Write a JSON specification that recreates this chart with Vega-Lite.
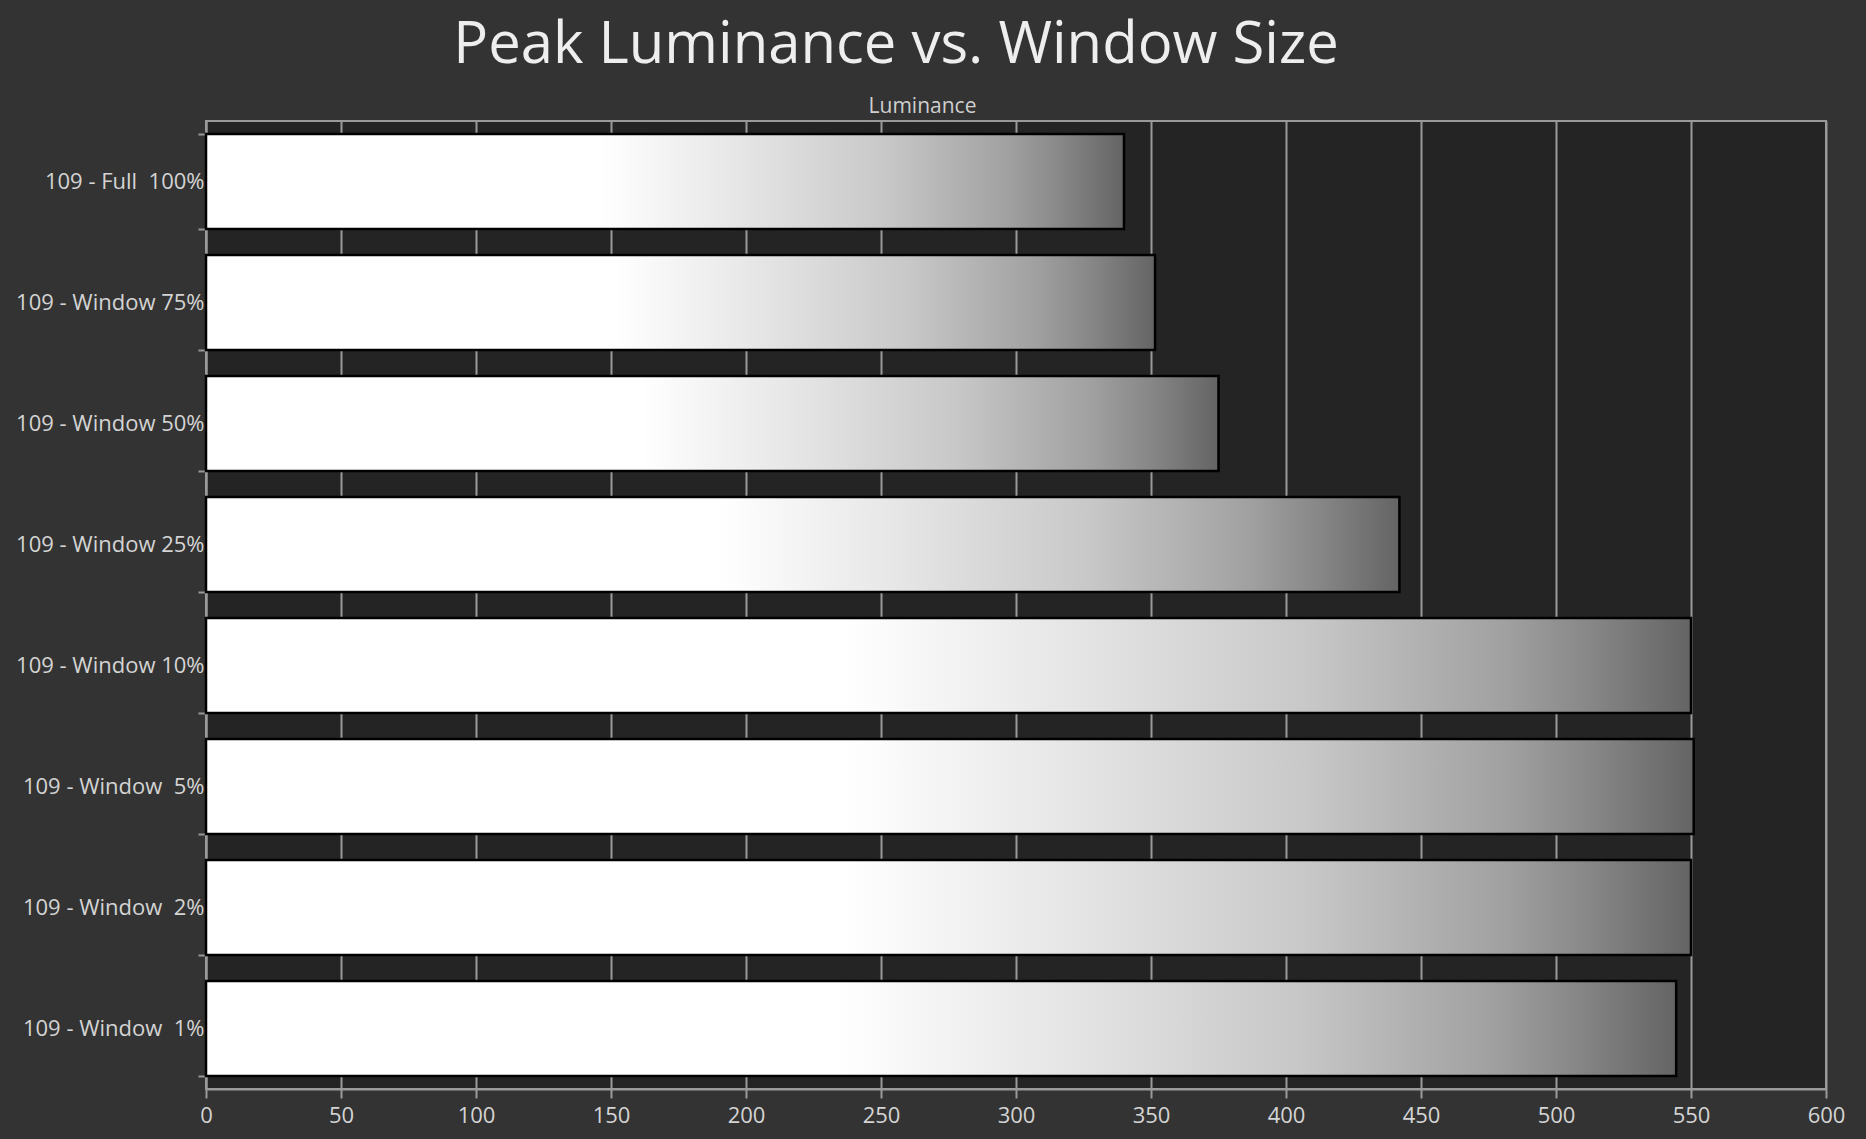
{
  "$schema": "https://vega.github.io/schema/vega-lite/v6.json",
  "autosize": {"type": "none"},
  "padding": {"left": 206, "top": 121, "right": 40, "bottom": 50},
  "width": 1620,
  "height": 968,
  "background": "#333333",
  "title": {
    "text": "Peak Luminance vs. Window Size",
    "font": "Open Sans",
    "fontSize": 58,
    "fontWeight": "normal",
    "color": "#eeeeee",
    "anchor": "middle",
    "dx": -120,
    "offset": 20
  },
  "config": {
    "view": {"fill": "#242424", "stroke": "#9a9a9a", "strokeWidth": 2},
    "axis": {"labelFont": "Open Sans", "titleFont": "Open Sans"}
  },
  "data": {
    "values": [
      {"label": "109 - Full  100%", "Luminance": 340},
      {"label": "109 - Window 75%", "Luminance": 351.5},
      {"label": "109 - Window 50%", "Luminance": 375},
      {"label": "109 - Window 25%", "Luminance": 442},
      {"label": "109 - Window 10%", "Luminance": 550},
      {"label": "109 - Window  5%", "Luminance": 551},
      {"label": "109 - Window  2%", "Luminance": 550},
      {"label": "109 - Window  1%", "Luminance": 544.5}
    ]
  },
  "resolve": {"axis": {"x": "independent"}},
  "layer": [
    {
      "mark": {
        "type": "bar",
        "stroke": "#000000",
        "strokeWidth": 2.5,
        "color": {
          "gradient": "linear",
          "x1": 0, "y1": 0, "x2": 1, "y2": 0,
          "stops": [
            {"offset": 0, "color": "#ffffff"},
            {"offset": 0.43, "color": "#ffffff"},
            {"offset": 0.58, "color": "#e6e6e6"},
            {"offset": 0.74, "color": "#c8c8c8"},
            {"offset": 0.876, "color": "#a0a0a0"},
            {"offset": 0.93, "color": "#888888"},
            {"offset": 1, "color": "#646464"}
          ]
        }
      },
      "encoding": {
        "y": {
          "field": "label",
          "type": "nominal",
          "sort": null,
          "scale": {"paddingInner": 0.215, "paddingOuter": 0.1075},
          "axis": {
            "title": null,
            "labelFontSize": 22,
            "labelColor": "#d4d4d4",
            "labelPadding": -6,
            "labelLimit": 400,
            "labelExpr": "replace(datum.label, '  ', '\u00a0 ')",
            "tickBand": "extent",
            "tickSize": 8,
            "tickColor": "#9a9a9a",
            "tickWidth": 2,
            "domainColor": "#9a9a9a",
            "domainWidth": 2,
            "grid": false
          }
        },
        "x": {
          "field": "Luminance",
          "type": "quantitative",
          "scale": {"domain": [0, 600], "nice": false},
          "axis": {
            "title": null,
            "orient": "bottom",
            "values": [0, 50, 100, 150, 200, 250, 300, 350, 400, 450, 500, 550, 600],
            "labelFontSize": 22,
            "labelColor": "#d4d4d4",
            "labelPadding": 7,
            "labelFlush": false,
            "tickSize": 9,
            "tickColor": "#9a9a9a",
            "tickWidth": 2,
            "domainColor": "#9a9a9a",
            "domainWidth": 2,
            "grid": true,
            "gridColor": "#9a9a9a",
            "gridWidth": 2
          }
        }
      }
    },
    {
      "mark": {"type": "point", "opacity": 0},
      "encoding": {
        "y": {"field": "label", "type": "nominal", "sort": null},
        "x": {
          "field": "Luminance",
          "type": "quantitative",
          "axis": {
            "orient": "top",
            "title": "Luminance",
            "titleFont": "Open Sans",
            "titleFontSize": 21,
            "titleFontWeight": "normal",
            "titleColor": "#cfcfcf",
            "titleX": 716,
            "titlePadding": 5,
            "labels": false,
            "ticks": false,
            "domain": false,
            "grid": false
          }
        }
      }
    }
  ]
}
